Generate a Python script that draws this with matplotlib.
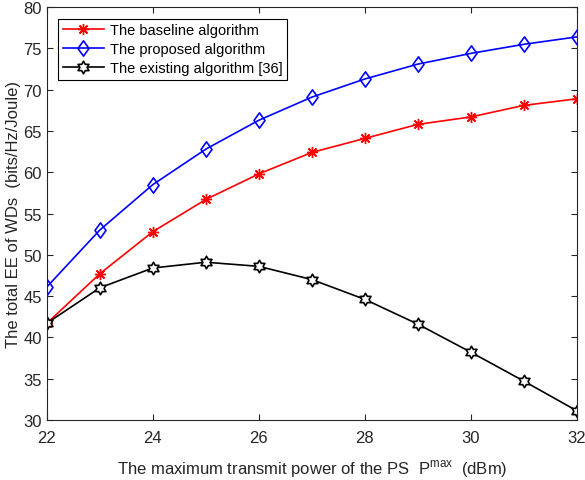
import numpy as np
import matplotlib
matplotlib.use('Agg')
import matplotlib.pyplot as plt
from matplotlib.path import Path

# Data
p_max = [22, 23, 24, 25, 26, 27, 28, 29, 30, 31, 32]
ee_baseline = [41.7, 47.7, 52.8, 56.7, 59.8, 62.4, 64.1, 65.8, 66.7, 68.1, 68.9]
ee_proposed = [46.1, 53.0, 58.5, 62.8, 66.3, 69.1, 71.3, 73.1, 74.4, 75.5, 76.4]
ee_existing = [41.7, 46.0, 48.4, 49.1, 48.6, 47.0, 44.6, 41.6, 38.2, 34.7, 31.1]

plt.rcParams['font.family'] = ['Liberation Sans', 'DejaVu Sans']

# six-pointed star marker (MATLAB 'hexagram')
ang = np.pi / 2 + np.arange(12) * np.pi / 6
rad = np.where(np.arange(12) % 2 == 0, 1.0, 1.0 / np.sqrt(3))
verts = np.column_stack([rad * np.cos(ang), rad * np.sin(ang)])
verts = np.vstack([verts, verts[0]])
codes = [Path.MOVETO] + [Path.LINETO] * 11 + [Path.CLOSEPOLY]
hexagram = Path(verts, codes)

# MATLAB-like diamond (a bit narrower than tall)
diamond = Path([(0, 1), (0.72, 0), (0, -1), (-0.72, 0), (0, 1)],
               [Path.MOVETO, Path.LINETO, Path.LINETO, Path.LINETO, Path.CLOSEPOLY])

fig = plt.figure(figsize=(5.85, 4.81), dpi=100)
ax = fig.add_axes([0.080, 0.125, 0.906, 0.858])

ax.plot(p_max, ee_baseline, color='#ff0000', marker=(8, 2, 0), markersize=8,
        linewidth=1.2, markeredgewidth=1.0, label='The baseline algorithm')
ax.plot(p_max, ee_proposed, color='#0000ff', marker=diamond, markersize=11,
        markerfacecolor='none', linewidth=1.2, markeredgewidth=1.2,
        label='The proposed algorithm')
ax.plot(p_max, ee_existing, color='black', marker=hexagram, markersize=9,
        markerfacecolor='white', linewidth=1.2, markeredgewidth=1.2,
        label='The existing algorithm [36]')

ax.set_xlim(22, 32)
ax.set_ylim(30, 80)
ax.set_xticks([22, 24, 26, 28, 30, 32])
ax.set_yticks(range(30, 81, 5))
ax.tick_params(direction='in', top=True, right=True, labelsize=12,
               colors='#262626', length=4)
ax.tick_params(axis='x', pad=7)
for s in ax.spines.values():
    s.set_color('#262626')
    s.set_linewidth(0.8)

ax.set_xlabel(r'The maximum transmit power of the PS  P$^{\mathregular{max}}$  (dBm)',
              fontsize=12, color='#262626', labelpad=9)
ax.set_ylabel('The total EE of WDs  (bits/Hz/Joule)', fontsize=12, color='#262626',
              labelpad=2)

leg = ax.legend(loc='upper left', fontsize=10.5, fancybox=False, edgecolor='black',
                framealpha=1, handlelength=2.8, borderaxespad=0.8,
                labelspacing=0.35, borderpad=0.3, handletextpad=0.4)
leg.get_frame().set_linewidth(0.8)

fig.savefig('out.png', dpi=100)
